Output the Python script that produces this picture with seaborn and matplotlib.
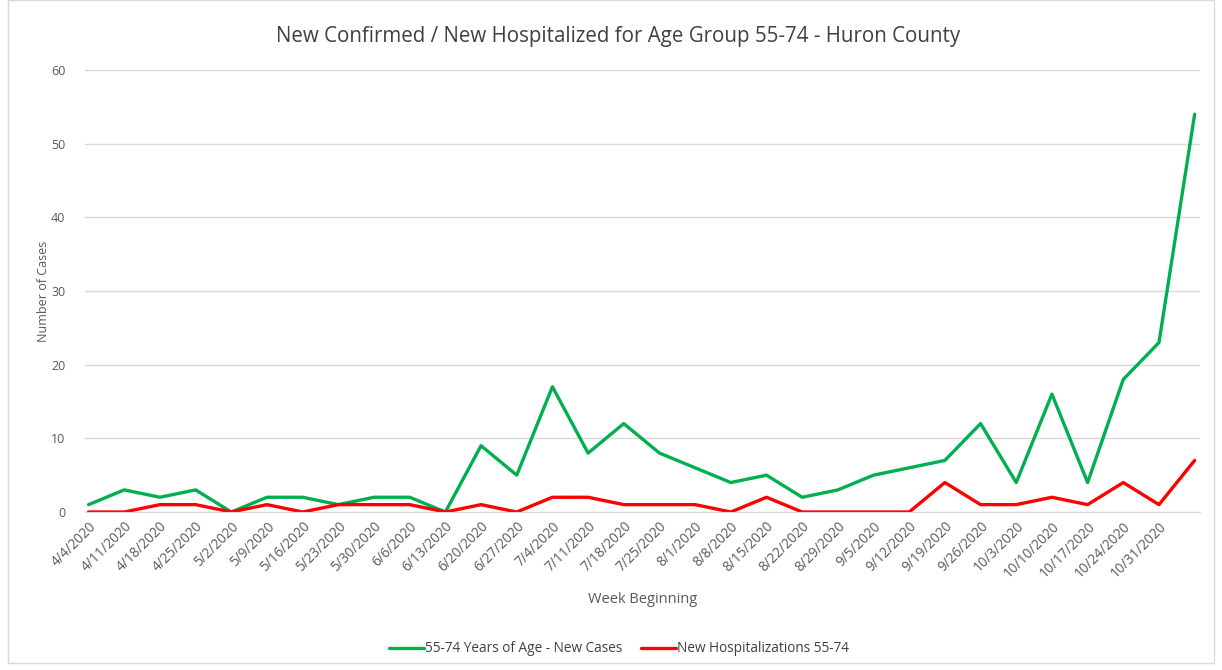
import pandas as pd
import seaborn as sns
import matplotlib.pyplot as plt
from matplotlib.patches import Rectangle

weeks = ['4/4/2020', '4/11/2020', '4/18/2020', '4/25/2020', '5/2/2020', '5/9/2020',
         '5/16/2020', '5/23/2020', '5/30/2020', '6/6/2020', '6/13/2020', '6/20/2020',
         '6/27/2020', '7/4/2020', '7/11/2020', '7/18/2020', '7/25/2020', '8/1/2020',
         '8/8/2020', '8/15/2020', '8/22/2020', '8/29/2020', '9/5/2020', '9/12/2020',
         '9/19/2020', '9/26/2020', '10/3/2020', '10/10/2020', '10/17/2020', '10/24/2020',
         '10/31/2020', '']
new_cases = [1, 3, 2, 3, 0, 2, 2, 1, 2, 2, 0, 9, 5, 17, 8, 12, 8, 6, 4, 5, 2, 3,
             5, 6, 7, 12, 4, 16, 4, 18, 23, 54]
new_hosp = [0, 0, 1, 1, 0, 1, 0, 1, 1, 1, 0, 1, 0, 2, 2, 1, 1, 1, 0, 2, 0, 0,
            0, 0, 4, 1, 1, 2, 1, 4, 1, 7]
series_names = ['55-74 Years of Age - New Cases', 'New Hospitalizations 55-74']

df = pd.DataFrame({'week': list(range(len(weeks))) * 2,
                   'value': new_cases + new_hosp,
                   'series': [series_names[0]] * len(weeks) + [series_names[1]] * len(weeks)})

sns.set_style('white')
plt.rcParams['font.family'] = ['Open Sans', 'DejaVu Sans']

fig = plt.figure(figsize=(12.22, 6.70), dpi=100)
ax = fig.add_axes([85 / 1222, 1 - 512 / 670, (1200 - 85) / 1222, (512 - 70) / 670])

sns.lineplot(data=df, x='week', y='value', hue='series',
             palette=['#00B050', '#FF0000'], linewidth=2.4, ax=ax, legend=True)

ax.set_ylim(0, 60)
ax.set_xlim(-0.1, 31.15)
ax.set_yticks(range(0, 61, 10))
ax.grid(axis='y', color='#d9d9d9', linewidth=1)
ax.set_axisbelow(True)
for s in ['top', 'right', 'left']:
    ax.spines[s].set_visible(False)
ax.spines['bottom'].set_color('#d9d9d9')

ax.set_xticks(range(len(weeks)))
ax.set_xticklabels(weeks, rotation=45, ha='right', rotation_mode='anchor',
                   fontsize=9.8, color='#595959')
ax.tick_params(axis='y', labelsize=9, labelcolor='#595959', length=0, pad=14)
ax.tick_params(axis='x', length=0, pad=5)

ax.set_xlabel('Week Beginning', fontsize=10.5, color='#595959', labelpad=8)
ax.set_ylabel('Number of Cases', fontsize=9, color='#595959', labelpad=1)
ax.set_title('New Confirmed / New Hospitalized for Age Group 55-74 - Huron County',
             fontsize=14.8, color='#404040', pad=20, x=(618 - 85) / (1200 - 85))

handles, labels = ax.get_legend_handles_labels()
ax.get_legend().remove()
for h in handles:
    h.set_linewidth(2.4)
fig.legend(handles, labels, loc='center', bbox_to_anchor=(619 / 1222, 1 - 649 / 670),
           ncol=2, frameon=False, fontsize=9.8, handlelength=2.6, handletextpad=0.1,
           columnspacing=1.3, labelcolor='#404040')

fig.patches.append(Rectangle((8 / 1222, 1 - 663 / 670), 1 - 16 / 1222, 663 / 670,
                             transform=fig.transFigure, fill=False,
                             edgecolor='#d9d9d9', linewidth=1))

fig.savefig('out.png', dpi=100)
